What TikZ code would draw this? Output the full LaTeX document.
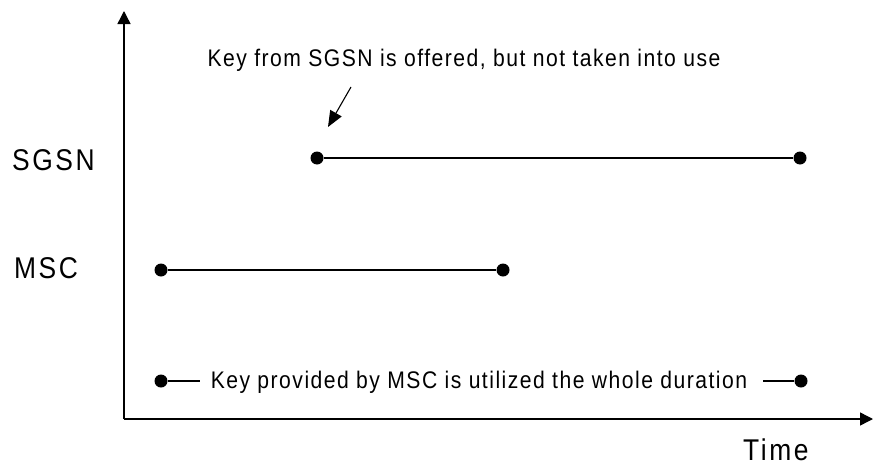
\documentclass[tikz,border=0pt]{standalone}
\usepackage{fontspec}
\setmainfont{Liberation Sans}
\newfontfamily\notefont[FakeStretch=0.88,LetterSpace=6.2]{Liberation Sans}
\newfontfamily\lblfont[FakeStretch=0.88,LetterSpace=8.5]{Liberation Sans}
\usetikzlibrary{arrows.meta}
\begin{document}
\begin{tikzpicture}[x=1pt,y=-1pt,
  axis/.style={line width=1.4pt,-{Triangle[length=13pt,width=13pt]}},
  seg/.style={line width=1.2pt},
  dot/.style={circle,fill=black,inner sep=0pt,minimum size=13pt},
  lbl/.style={font=\lblfont\fontsize{30}{33}\selectfont,anchor=base west,inner sep=0pt},
  note/.style={font=\notefont\fontsize{24}{27}\selectfont,anchor=base,inner sep=0pt},
  pointer/.style={line width=1.1pt,-{Triangle[length=16pt,width=13pt]}}]
\useasboundingbox (0,0) rectangle (873,466);
% axes
\coordinate (o) at (124,419);
\coordinate (ytip) at (124,11);
\coordinate (xtip) at (873,419);
\draw[axis] (o) -- (ytip);
\draw[axis] (o) -- (xtip);
% labels
\node[lbl] (sgsn) at (12,170) {SGSN};
\node[lbl] (msc) at (14,278) {MSC};
\node[lbl] (time) at (743,460) {Time};
% SGSN line
\node[dot] (s1) at (317,158) {};
\node[dot] (s2) at (800,158) {};
\draw[seg] (s1) -- (s2);
% MSC line
\node[dot] (m1) at (161,270) {};
\node[dot] (m2) at (503,270) {};
\draw[seg] (m1) -- (m2);
% top note and pointer
\node[note] (topnote) at (464,66.5) {Key from SGSN is offered, but not taken into use};
\coordinate (pa) at (351,87);
\coordinate (pb) at (328,127);
\draw[pointer] (pa) -- (pb);
% bottom legend
\node[dot] (b1) at (161,381) {};
\node[dot] (b2) at (801,381) {};
\coordinate (bl) at (200,381);
\coordinate (br) at (763,381);
\draw[seg] (b1) -- (bl);
\draw[seg] (br) -- (b2);
\node[note] (botnote) at (479,388.5) {Key provided by MSC is utilized the whole duration};
\end{tikzpicture}
\end{document}
